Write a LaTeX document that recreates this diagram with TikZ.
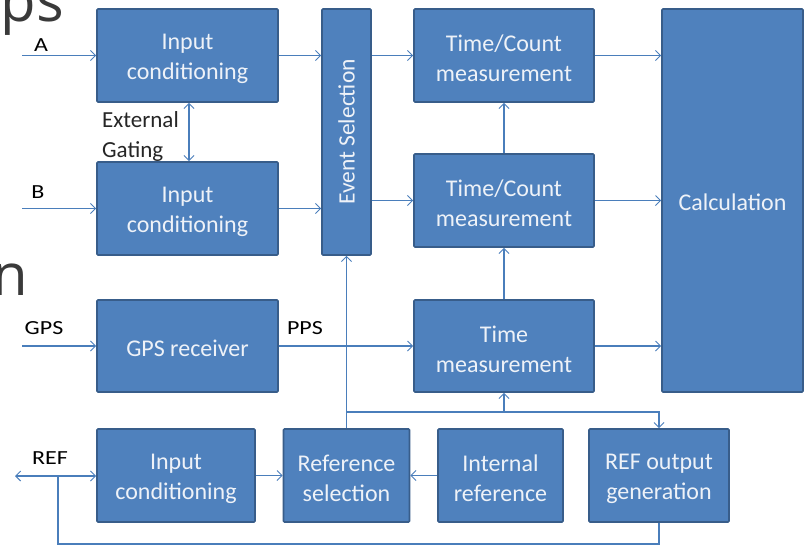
\documentclass[tikz,border=0pt]{standalone}
\usepackage{fontspec}
\setmainfont{Carlito}
\newfontfamily\lblfont[FakeStretch=1.2]{Carlito}
\newfontfamily\bgfont{Open Sans}
\usetikzlibrary{arrows.meta,calc}
\definecolor{boxfill}{HTML}{4F81BD}
\definecolor{boxborder}{HTML}{385D8A}
\definecolor{boxtext}{HTML}{EEF2F8}
\definecolor{linecol}{HTML}{4A7EBB}
\definecolor{bgtext}{HTML}{3A3A3A}
\begin{document}
\begin{tikzpicture}[x=1pt,y=-1pt,
  blk/.style={draw=boxborder, fill=boxfill, line width=1.6pt, rounded corners=1pt, inner sep=0pt},
  btxt/.style={text=boxtext, font=\fontsize{24}{30}\selectfont, align=center, inner sep=0pt, yshift=-3pt},
  tip/.tip={Straight Barb[length=5pt,width=10pt,line width=1pt]},
  wire/.style={draw=linecol, line width=1.4pt},
  conn/.style={wire, -tip},
  conn2/.style={wire, tip-tip},
  lbl/.style={font=\lblfont\fontsize{20}{24}\selectfont, text=black, inner sep=0pt},
  bgword/.style={font=\bgfont\fontsize{58}{60}\selectfont, text=bgtext, inner sep=0pt}
]
\useasboundingbox (0,0) rectangle (809,546);
\clip (0,0) rectangle (809,546);
\fill[white] (0,0) rectangle (809,546);

% background slide fragments
\node[bgword, anchor=base east] (bgps) at (64,21) {ps};
\node[bgword, anchor=base east] (bgn) at (28,295) {n};

% blocks
\node[blk, minimum width=181pt, minimum height=93pt, label={[btxt]center:{Input\\conditioning}}] (inA) at (187.5,55.5) {};
\node[blk, minimum width=181pt, minimum height=93pt, label={[btxt]center:{Input\\conditioning}}] (inB) at (187.5,208.5) {};
\node[blk, minimum width=49pt, minimum height=246pt] (es) at (346.5,132) {};
\node[rotate=90, text=boxtext, font=\fontsize{23.5}{30}\selectfont, inner sep=0pt] (eslabel) at (es.center) {Event Selection};
\node[blk, minimum width=180pt, minimum height=93pt, label={[btxt]center:{Time/Count\\measurement}}] (tc1) at (504,55.5) {};
\node[blk, minimum width=180pt, minimum height=93pt, label={[btxt]center:{Time/Count\\measurement}}] (tc2) at (504,200.5) {};
\node[blk, minimum width=141pt, minimum height=383pt, label={[btxt,yshift=1pt]center:{Calculation}}] (calc) at (732.5,200.5) {};
\node[blk, minimum width=181pt, minimum height=92pt, label={[btxt,yshift=1pt]center:{GPS receiver}}] (gps) at (187.5,346) {};
\node[blk, minimum width=180pt, minimum height=92pt, label={[btxt]center:{Time\\measurement}}] (tm) at (504,346) {};
\node[blk, minimum width=158pt, minimum height=93pt, label={[btxt]center:{Input\\conditioning}}] (inR) at (176,475.5) {};
\node[blk, minimum width=126pt, minimum height=93pt, label={[btxt]center:{Reference\\selection}}] (rs) at (346.5,475.5) {};
\node[blk, minimum width=125pt, minimum height=93pt, label={[btxt]center:{Internal\\reference}}] (ir) at (500.5,475.5) {};
\node[blk, minimum width=140pt, minimum height=93pt, label={[btxt]center:{REF output\\generation}}] (ro) at (659,475.5) {};

% labels
\node[lbl] (lA) at (41,45) {A};
\node[lbl] (lB) at (38,192) {B};
\node[lbl] (lGPS) at (44,328) {GPS};
\node[lbl] (lPPS) at (305,328) {PPS};
\node[lbl] (lREF) at (50,458) {REF};
\node[font=\fontsize{23}{30}\selectfont, text=black!85, align=left, anchor=north west, inner sep=0pt] (lgate) at (102,111) {External\\Gating};

% coordinates
\coordinate (a0) at (22,55.5);
\coordinate (b0) at (22,208.5);
\coordinate (g0) at (22,346);
\coordinate (refL) at (15,476);
\coordinate (tap) at (58,476);
\coordinate (busY) at (0,412);
\coordinate (botY) at (0,544);
\coordinate (bus) at (rs.north |- busY);

% connectors
\draw[conn] (a0) -- (a0 -| inA.west);
\draw[conn] (b0) -- (b0 -| inB.west);
\draw[conn] (g0) -- (g0 -| gps.west);
\draw[conn] (inA.east) -- (inA.east -| es.west);
\draw[conn] (inB.east) -- (inB.east -| es.west);
\draw[conn] (tc1.west -| es.east) -- (tc1.west);
\draw[conn] (tc2.west -| es.east) -- (tc2.west);
\draw[conn] (tc1.east) -- (tc1.east -| calc.west);
\draw[conn] (tc2.east) -- (tc2.east -| calc.west);
\draw[conn] (tm.east) -- (tm.east -| calc.west);
\draw[conn] (gps.east) -- (tm.west);
\draw[conn] (tc2.north) -- (tc1.south);
\draw[conn] (tm.north) -- (tc2.south);
\draw[conn2] ($(inA.south)+(1.5,0)$) -- ($(inB.north)+(1.5,0)$);
\draw[conn] (rs.north) -- (es.south);
\draw[conn] (bus) -- (bus -| ro.north) -- (ro.north);
\draw[conn] (bus -| tm.south) -- (tm.south);
\draw[conn] (ir.west) -- (rs.east);
\draw[conn] (inR.east) -- (rs.west);
\draw[conn2] (refL) -- (refL -| inR.west);
\draw[wire] (ro.south) -- (ro.south |- botY) -- (tap |- botY) -- (tap);
\end{tikzpicture}
\end{document}
